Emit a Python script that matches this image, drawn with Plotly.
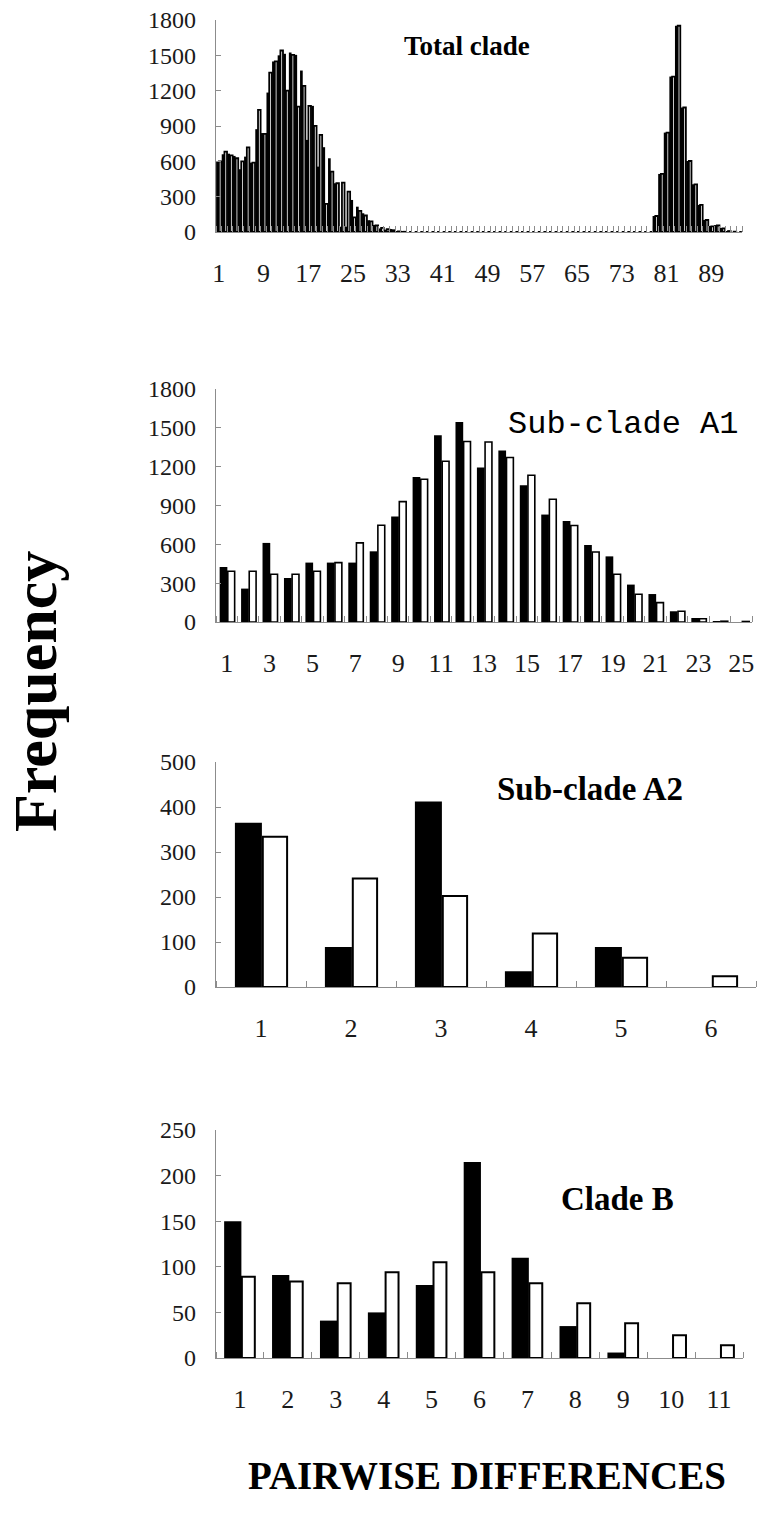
import plotly.graph_objects as go

W, H = 757, 1515

# ---------------- data ----------------
total_cats = list(range(1, 95))
total_obs = [598, 660, 665, 646, 533, 640, 589, 873, 840, 1184,
             1448, 1500, 1513, 1524, 1504, 1371, 782, 1071, 555, 720,
             626, 414, 45, 45, 272, 215, 159, 100, 60, 30,
             20, 25, 8, 3] + [0] * 44 + [136, 493, 844, 1320, 1751, 1057, 603, 405, 230, 102,
                                           51, 59, 34, 5, 0, 0]
total_exp = [600, 682, 650, 626, 600, 719, 589, 1037, 833, 1354,
             1448, 1541, 1201, 1504, 1065, 1241, 1071, 901, 824, 238,
             513, 414, 419, 343, 125, 180, 140, 90, 55, 35,
             25, 15, 5, 2] + [0] * 44 + [136, 493, 844, 1320, 1751, 1057, 603, 405, 230, 102,
                                          48, 55, 30, 8, 3, 0]
total_ticks = list(range(1, 90, 8))

a1_cats = list(range(1, 26))
a1_obs = [425, 258, 611, 340, 459, 459, 459, 546, 815, 1121,
          1443, 1546, 1193, 1324, 1057, 830, 781, 595, 507, 289,
          216, 83, 31, 6, 0]
a1_exp = [392, 392, 369, 369, 392, 459, 611, 747, 930, 1103,
          1242, 1394, 1391, 1271, 1134, 948, 745, 541, 369, 214,
          150, 83, 25, 6, 4]
a1_ticks = list(range(1, 26, 2))

a2_cats = [1, 2, 3, 4, 5, 6]
a2_obs = [365, 89, 412, 35, 89, 0]
a2_exp = [334, 241, 202, 119, 65, 24]
a2_ticks = a2_cats

b_cats = list(range(1, 12))
b_obs = [150, 91, 41, 50, 80, 215, 110, 35, 6, 0, 0]
b_exp = [89, 84, 82, 94, 105, 94, 82, 60, 38, 25, 14]
b_ticks = b_cats

# ---------------- layout helpers ----------------
AXIS_GREY = "#8c8c8c"
SERIF = "Liberation Serif, Times New Roman, serif"

panels = [
    dict(cats=total_cats, obs=total_obs, exp=total_exp, ticks=total_ticks,
         ymax=1800, ystep=300, x0=216, x1=742, ybot=232, ytop=20,
         bw=0.48, boff=-0.48, ww=0.46, woff=0.01, wline=1.8),
    dict(cats=a1_cats, obs=a1_obs, exp=a1_exp, ticks=a1_ticks,
         ymax=1800, ystep=300, x0=216, x1=752, ybot=622, ytop=389,
         bw=0.36, boff=-0.33, ww=0.32, woff=0.05, wline=1.6),
    dict(cats=a2_cats, obs=a2_obs, exp=a2_exp, ticks=a2_ticks,
         ymax=500, ystep=100, x0=216, x1=756, ybot=987, ytop=762,
         bw=0.30, boff=-0.29, ww=0.27, woff=0.02, wline=2),
    dict(cats=b_cats, obs=b_obs, exp=b_exp, ticks=b_ticks,
         ymax=250, ystep=50, x0=216, x1=743, ybot=1358, ytop=1130,
         bw=0.36, boff=-0.33, ww=0.27, woff=0.04, wline=2),
]

fig = go.Figure()
layout = dict(
    width=W, height=H,
    margin=dict(l=0, r=0, t=0, b=0, pad=0, autoexpand=False),
    paper_bgcolor="white", plot_bgcolor="white",
    barmode="overlay", showlegend=False,
    font=dict(family=SERIF, color="#1a1a1a"),
)

for i, p in enumerate(panels, start=1):
    xa = "x" if i == 1 else f"x{i}"
    ya = "y" if i == 1 else f"y{i}"
    fig.add_trace(go.Bar(
        x=p["cats"], y=p["obs"], width=p["bw"], offset=p["boff"],
        marker=dict(color="black", line=dict(color="black", width=0)),
        xaxis=xa, yaxis=ya, name="observed"))
    fig.add_trace(go.Bar(
        x=p["cats"], y=p["exp"], width=p["ww"], offset=p["woff"],
        marker=dict(color="white", line=dict(color="black", width=p["wline"])),
        xaxis=xa, yaxis=ya, name="expected"))
    n = len(p["cats"])
    layout["xaxis" if i == 1 else f"xaxis{i}"] = dict(
        domain=[p["x0"] / W, p["x1"] / W],
        anchor=ya, range=[0.5, n + 0.5], automargin=False,
        tickmode="array", tickvals=p["ticks"], ticktext=[str(t) for t in p["ticks"]],
        ticks="", showgrid=False, zeroline=False,
        showline=True, linecolor=AXIS_GREY, linewidth=1.3,
        tickfont=dict(family=SERIF, size=26, color="#1a1a1a"),
        ticklabelstandoff=18,
        minor=dict(tickmode="array", tickvals=[k + 0.5 for k in range(n + 1)],
                   ticks="inside", ticklen=6, tickcolor=AXIS_GREY, tickwidth=1,
                   showgrid=False),
    )
    layout["yaxis" if i == 1 else f"yaxis{i}"] = dict(
        domain=[1 - p["ybot"] / H, 1 - p["ytop"] / H],
        anchor=xa, range=[0, p["ymax"]], automargin=False,
        tickmode="array", tickvals=list(range(0, p["ymax"] + 1, p["ystep"])),
        ticks="inside", ticklen=5, tickcolor=AXIS_GREY, tickwidth=1,
        showgrid=False, zeroline=False,
        showline=True, linecolor=AXIS_GREY, linewidth=1.3,
        tickfont=dict(family=SERIF, size=24, color="#1a1a1a"),
        ticklabelstandoff=14,
    )

annotations = [
    dict(text="<b>Total clade</b>", x=467 / W, y=1 - 46 / H,
         font=dict(family=SERIF, size=27, color="black")),
    dict(text="Sub-clade A1", x=623 / W, y=1 - 424 / H,
         font=dict(family="Liberation Mono, Courier New, monospace", size=32, color="black")),
    dict(text="<b>Sub-clade A2</b>", x=590 / W, y=1 - 789 / H,
         font=dict(family=SERIF, size=33, color="black")),
    dict(text="<b>Clade B</b>", x=617 / W, y=1 - 1199 / H,
         font=dict(family=SERIF, size=33, color="black")),
    dict(text="<b>Frequency</b>", x=35 / W, y=1 - 692 / H, textangle=-90,
         font=dict(family=SERIF, size=62, color="black")),
    dict(text="<b>PAIRWISE DIFFERENCES</b>", x=487 / W, y=1 - 1475 / H,
         font=dict(family=SERIF, size=39, color="black")),
]
for a in annotations:
    a.update(xref="paper", yref="paper", xanchor="center", yanchor="middle",
             showarrow=False)
layout["annotations"] = annotations

fig.update_layout(**layout)
fig.write_html(
    "out.html",
    config={"displayModeBar": False},
    post_script="document.body.style.margin='0';document.body.style.overflow='hidden';",
)
